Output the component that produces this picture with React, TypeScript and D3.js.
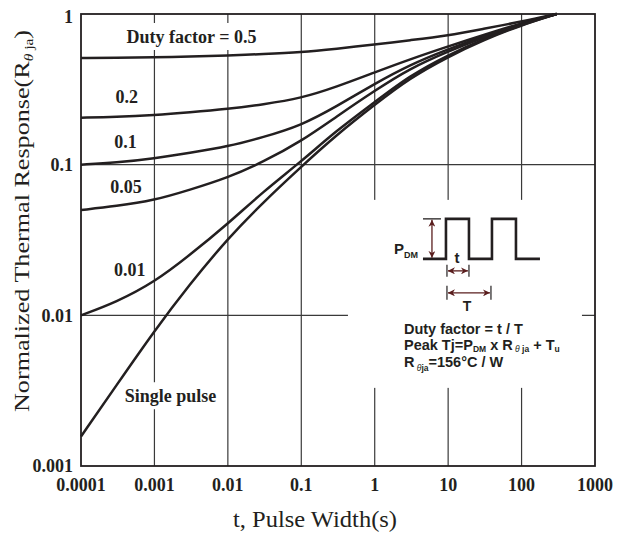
import * as d3 from "d3"

const PULSE_WIDTHS = [1e-4, 3e-4, 1e-3, 3e-3, 1e-2, 3e-2, 0.1, 0.3, 1, 3, 10, 30, 100, 300]

// normalized thermal response per duty factor
const DUTY_0_5 = [0.51, 0.512, 0.516, 0.522, 0.531, 0.542, 0.557, 0.588, 0.627, 0.67, 0.72, 0.797, 0.89, 1]
const DUTY_0_2 = [0.205, 0.207, 0.213, 0.222, 0.234, 0.251, 0.276, 0.328, 0.41, 0.5, 0.61, 0.725, 0.87, 1]
const DUTY_0_1 = [0.1, 0.103, 0.11, 0.12, 0.132, 0.152, 0.182, 0.243, 0.345, 0.46, 0.585, 0.71, 0.865, 1]
const DUTY_0_05 = [0.05, 0.053, 0.058, 0.068, 0.082, 0.104, 0.143, 0.208, 0.31, 0.435, 0.565, 0.7, 0.858, 1]
const DUTY_0_01 = [0.01, 0.0122, 0.0166, 0.025, 0.0405, 0.066, 0.105, 0.168, 0.26, 0.39, 0.535, 0.68, 0.85, 1]
const SINGLE_PULSE = [0.00157, 0.0034, 0.0079, 0.016, 0.0324, 0.056, 0.097, 0.157, 0.25, 0.375, 0.52, 0.67, 0.845, 1]

const SERIES = [DUTY_0_5, DUTY_0_2, DUTY_0_1, DUTY_0_05, DUTY_0_01, SINGLE_PULSE]
const SERIES_LABELS = ["Duty factor = 0.5", "0.2", "0.1", "0.05", "0.01", "Single pulse"]

const X_TICKS = [1e-4, 1e-3, 1e-2, 1e-1, 1, 10, 100, 1000]
const X_TICK_LABELS = ["0.0001", "0.001", "0.01", "0.1", "1", "10", "100", "1000"]
const Y_TICKS = [0.001, 0.01, 0.1, 1]
const Y_TICK_LABELS = ["0.001", "0.01", "0.1", "1"]

// label anchors (data coords: pulse width, response) – text centre / baseline
const LABEL_AT: [number, number][] = [
  [0.0032, 0.642],
  [4.2e-4, 0.257],
  [4.05e-4, 0.129],
  [4.1e-4, 0.0648],
  [4.6e-4, 0.0182],
  [1.66e-3, 0.00265],
]
// labels that knock a hole into the vertical grid
const KNOCKOUT = [0, 5]
const INSET_AT: [number, number] = [4.54, 0.0237]

const W = 622
const H = 535
const M = { left: 81, right: 27, top: 14, bottom: 69 }
const INK = "#231f20"
const ARROW = "#5a1e1e"
const SERIF = "'Liberation Serif', 'Times New Roman', serif"
const SANS = "'Liberation Sans', Arial, sans-serif"

export default function App() {
  const x = d3.scaleLog().domain([1e-4, 1e3]).range([M.left, W - M.right])
  const y = d3.scaleLog().domain([1e-3, 1]).range([H - M.bottom, M.top])
  const line = d3.line<[number, number]>()
    .x((d) => x(d[0]))
    .y((d) => y(d[1]))
    .curve(d3.curveBasis)

  const [ix, iy] = [x(INSET_AT[0]), y(INSET_AT[1])]

  return (
    <svg width={W} height={H} style={{ position: "fixed", left: 0, top: 0, background: "#fff" }}>
      <defs>
        <marker id="ah" viewBox="0 0 10 10" refX="10" refY="5" markerWidth="7" markerHeight="7"
          markerUnits="userSpaceOnUse" orient="auto-start-reverse">
          <path d="M0,0 L10,5 L0,10 L3,5 z" fill={ARROW} />
        </marker>
      </defs>

      {/* grid */}
      <g stroke="#3a3a3a" strokeWidth={1.2}>
        {X_TICKS.slice(1, -1).map((t) => (
          <line key={t} x1={x(t)} x2={x(t)} y1={M.top} y2={H - M.bottom} />
        ))}
        {Y_TICKS.slice(1, -1).map((v) => (
          <line key={v} x1={M.left} x2={W - M.right} y1={y(v)} y2={y(v)} />
        ))}
      </g>

      {/* holes in the grid behind the texts */}
      <g fill="#fff">
        <rect x={ix - 75} y={iy - 59} width={234} height={188} />
        {KNOCKOUT.map((i) => {
          const w = i === 0 ? 145 : 104
          return <rect key={i} x={x(LABEL_AT[i][0]) - w / 2} y={y(LABEL_AT[i][1]) - 20} width={w} height={27} />
        })}
      </g>

      <rect x={M.left} y={M.top} width={W - M.left - M.right} height={H - M.top - M.bottom}
        fill="none" stroke={INK} strokeWidth={1.8} />

      {/* curves */}
      <g fill="none" stroke={INK} strokeWidth={2.5} strokeLinejoin="round">
        {SERIES.map((vals, i) => (
          <path key={i} d={line(PULSE_WIDTHS.map((t, j) => [t, vals[j]]))!} />
        ))}
      </g>

      {/* curve labels */}
      <g fontFamily={SERIF} fontWeight="bold" fontSize={18} fill={INK} textAnchor="middle">
        {SERIES_LABELS.map((s, i) => (
          <text key={s} x={x(LABEL_AT[i][0])} y={y(LABEL_AT[i][1])}>{s}</text>
        ))}
      </g>

      {/* ticks */}
      <g fontFamily={SERIF} fontWeight="bold" fontSize={18} fill={INK}>
        {X_TICKS.map((t, i) => (
          <text key={t} x={x(t)} y={H - M.bottom + 25} textAnchor="middle">{X_TICK_LABELS[i]}</text>
        ))}
        {Y_TICKS.map((v, i) => (
          <text key={v} x={M.left - 8} y={y(v) + (v === 1 ? 3 : 0)} dy="0.35em" textAnchor="end">{Y_TICK_LABELS[i]}</text>
        ))}
      </g>

      {/* axis titles */}
      <text x={(M.left + W - M.right) / 2 - 23} y={H - 8} textAnchor="middle" fontFamily={SERIF}
        fontSize={23} fill={INK} textLength={164} lengthAdjust="spacingAndGlyphs">
        t, Pulse Width(s)
      </text>
      <text transform={`translate(28.5,221) rotate(-90)`} textAnchor="middle" fontFamily={SERIF}
        fontSize={22} fill={INK} textLength={382} lengthAdjust="spacingAndGlyphs">
        Normalized Thermal Response(R
        <tspan fontSize={13} dy={4} fontStyle="italic">θ</tspan>
        <tspan fontSize={13}> ja</tspan>
        <tspan dy={-4}>)</tspan>
      </text>

      {/* inset: pulse train and formulas */}
      <g transform={`translate(${ix},${iy})`} fill={INK}>
        <path d="M0,0 H23 V-40 H46 V0 H69 V-40 H93 V0 H117" fill="none" stroke={INK} strokeWidth={2.6} />
        <line x1={0} x2={18} y1={-40} y2={-40} stroke={INK} strokeWidth={1.3} />
        <line x1={9} x2={9} y1={-39} y2={-1} stroke={ARROW} strokeWidth={1.3}
          markerStart="url(#ah)" markerEnd="url(#ah)" />

        <g stroke={INK} strokeWidth={1.2}>
          <line x1={24} x2={24} y1={6} y2={18} />
          <line x1={46} x2={46} y1={6} y2={18} />
          <line x1={24} x2={24} y1={27} y2={41} />
          <line x1={68} x2={68} y1={27} y2={41} />
        </g>
        <line x1={25} x2={45} y1={12} y2={12} stroke={ARROW} strokeWidth={1.3}
          markerStart="url(#ah)" markerEnd="url(#ah)" />
        <line x1={25} x2={67} y1={34} y2={34} stroke={ARROW} strokeWidth={1.3}
          markerStart="url(#ah)" markerEnd="url(#ah)" />

        <g fontFamily={SANS} fontWeight="bold">
          <text x={-29} y={-5} fontSize={15}>P<tspan fontSize={9} dy={4}>DM</tspan></text>
          <text x={34} y={4} fontSize={15} textAnchor="middle">t</text>
          <text x={44} y={52} fontSize={14} textAnchor="middle">T</text>
          <text x={-19} y={75} fontSize={14.5}>Duty factor = t / T</text>
          <text x={-19} y={91} fontSize={14.5}>
            Peak Tj=P<tspan fontSize={8.5} dy={2.5}>DM</tspan>
            <tspan dy={-2.5}> x R</tspan>
            <tspan fontSize={8.5} dy={2.5} fontStyle="italic" fontWeight="normal"> θ</tspan>
            <tspan fontSize={8.5}> ja</tspan>
            <tspan dy={-2.5}> + T</tspan>
            <tspan fontSize={8.5} dy={2.5}>u</tspan>
          </text>
          <text x={-19} y={108} fontSize={14.5}>
            R<tspan fontSize={8.5} dy={4} fontStyle="italic" fontWeight="normal"> θ</tspan>
            <tspan fontSize={8.5}>ja</tspan>
            <tspan dy={-4}>=156°C / W</tspan>
          </text>
        </g>
      </g>
    </svg>
  )
}
